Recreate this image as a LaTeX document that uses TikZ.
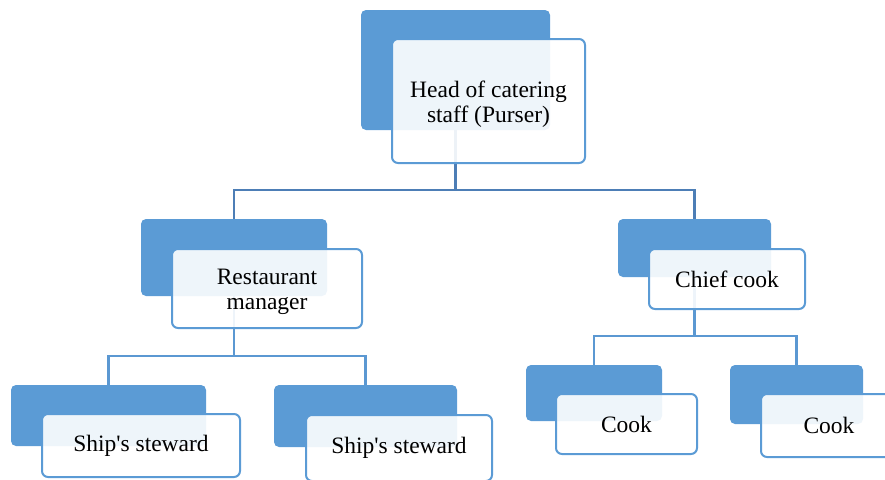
\documentclass[tikz,border=0pt]{standalone}
\usepackage{fontspec}
\setmainfont{Liberation Serif}[Ligatures=TeXOff]
\definecolor{bfill}{HTML}{5B9BD5}
\definecolor{bline}{HTML}{5B9BD5}
\definecolor{conA}{HTML}{4D7EB6}
\definecolor{conB}{HTML}{5B98D2}
\begin{document}
\begin{tikzpicture}[x=1pt,y=-1pt,
  bluebox/.style={rectangle,rounded corners=5pt,fill=bfill,draw=none,inner sep=0pt,outer sep=0pt},
  whitebox/.style={rectangle,rounded corners=6pt,fill=white,fill opacity=0.9,draw=bline,line width=2pt,inner sep=0pt,outer sep=0pt},
  txt/.style={inner sep=0pt,align=center,font=\fontsize{23.5}{25}\selectfont},
  txttwo/.style={txt,yshift=-3pt},
  conn/.style={line width=2.5pt},
]
\useasboundingbox (0,0) rectangle (885,479);
\clip (0,0) rectangle (885,479);
% blue back boxes
\node[bluebox,minimum width=189pt,minimum height=120pt] (b1) at (455.5,70) {};
\node[bluebox,minimum width=186pt,minimum height=77pt] (b2) at (234,257.5) {};
\node[bluebox,minimum width=153pt,minimum height=58pt] (b3) at (694.5,248) {};
\node[bluebox,minimum width=195pt,minimum height=61pt] (b4) at (108.5,415.5) {};
\node[bluebox,minimum width=183pt,minimum height=62pt] (b5) at (365.5,416) {};
\node[bluebox,minimum width=136pt,minimum height=56pt] (b6) at (594,393) {};
\node[bluebox,minimum width=133pt,minimum height=59pt] (b7) at (796.5,394.5) {};
% connectors
\coordinate (j1) at (455.5,190);
\coordinate (j2) at (234,356);
\coordinate (j3) at (694.5,336);
\draw[conn,draw=conA] (b1.south) -- (j1) -| (b2.north);
\draw[conn,draw=conA] (j1) -| (b3.north);
\draw[conn,draw=conB] (b2.south) -- (j2) -| (b4.north);
\draw[conn,draw=conB] (j2) -| (b5.north);
\draw[conn,draw=conB] (b3.south) -- (j3) -| (b6.north);
\draw[conn,draw=conB] (j3) -| (b7.north);
% white front boxes
\node[whitebox,minimum width=193pt,minimum height=124pt] (w1) at (488.5,101) {};
\node[whitebox,minimum width=190pt,minimum height=79pt] (w2) at (267,288.5) {};
\node[whitebox,minimum width=156pt,minimum height=60pt] (w3) at (727,279) {};
\node[whitebox,minimum width=198pt,minimum height=63pt] (w4) at (141,445.5) {};
\node[whitebox,minimum width=186pt,minimum height=66pt] (w5) at (399,448) {};
\node[whitebox,minimum width=141pt,minimum height=60pt] (w6) at (626.5,424) {};
\node[whitebox,minimum width=136pt,minimum height=63pt] (w7) at (829,425.5) {};
% texts
\node[txttwo] (t1) at (w1.center) {Head of catering\\staff (Purser)};
\node[txttwo] (t2) at (w2.center) {Restaurant\\manager};
\node[txt] (t3) at (w3.center) {Chief cook};
\node[txt] (t4) at (w4.center) {Ship's steward};
\node[txt] (t5) at (w5.center) {Ship's steward};
\node[txt] (t6) at (w6.center) {Cook};
\node[txt] (t7) at (w7.center) {Cook};
\end{tikzpicture}
\end{document}
